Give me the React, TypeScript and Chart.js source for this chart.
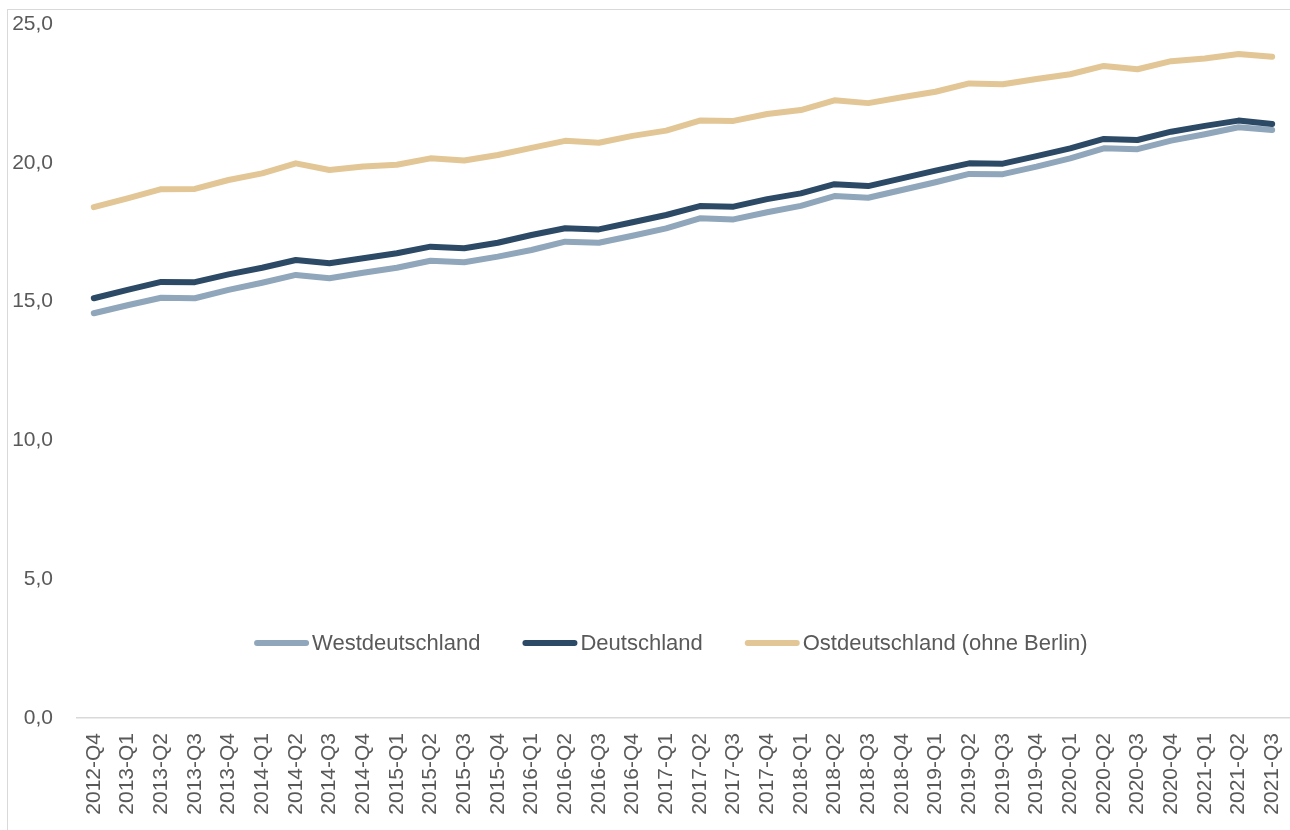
import React, { useEffect, useRef } from 'react';
import { Chart, registerables } from 'chart.js';

Chart.register(...registerables);

const categories = [
  '2012-Q4',
  '2013-Q1', '2013-Q2', '2013-Q3', '2013-Q4',
  '2014-Q1', '2014-Q2', '2014-Q3', '2014-Q4',
  '2015-Q1', '2015-Q2', '2015-Q3', '2015-Q4',
  '2016-Q1', '2016-Q2', '2016-Q3', '2016-Q4',
  '2017-Q1', '2017-Q2', '2017-Q3', '2017-Q4',
  '2018-Q1', '2018-Q2', '2018-Q3', '2018-Q4',
  '2019-Q1', '2019-Q2', '2019-Q3', '2019-Q4',
  '2020-Q1', '2020-Q2', '2020-Q3', '2020-Q4',
  '2021-Q1', '2021-Q2', '2021-Q3',
];

const westdeutschland = [
  14.58, 14.87, 15.14, 15.12, 15.42, 15.68, 15.96, 15.84, 16.04,
  16.22, 16.47, 16.42, 16.62, 16.86, 17.16, 17.12, 17.37,
  17.64, 18.0, 17.96, 18.22, 18.45, 18.8, 18.74, 19.02,
  19.3, 19.6, 19.59, 19.86, 20.16, 20.52, 20.49, 20.8,
  21.03, 21.28, 21.18,
];

const deutschland = [
  15.12, 15.42, 15.71, 15.7, 15.98, 16.22, 16.5, 16.38, 16.56,
  16.74, 16.98, 16.92, 17.12, 17.4, 17.64, 17.6, 17.86,
  18.12, 18.44, 18.42, 18.69, 18.9, 19.23, 19.16, 19.44,
  19.72, 19.98, 19.97, 20.24, 20.52, 20.86, 20.82, 21.12,
  21.33, 21.52, 21.4,
];

const ostdeutschland = [
  18.4, 18.72, 19.05, 19.06, 19.38, 19.62, 19.98, 19.74, 19.87,
  19.93, 20.16, 20.08, 20.28, 20.54, 20.79, 20.72, 20.97,
  21.16, 21.52, 21.51, 21.76, 21.9, 22.25, 22.15, 22.36,
  22.56, 22.86, 22.83, 23.02, 23.19, 23.49, 23.37, 23.66,
  23.76, 23.92, 23.82,
];

const seriesNames = ['Westdeutschland', 'Deutschland', 'Ostdeutschland (ohne Berlin)'];
const seriesColors = ['#8FA6BB', '#2C4A66', '#E2C696'];

const yTickValues = [0, 5, 10, 15, 20, 25];
const yTickLabels = ['0,0', '5,0', '10,0', '15,0', '20,0', '25,0'];

const FONT = '"Liberation Sans", Arial, sans-serif';
const TEXT_COLOR = '#595959';

const inlineLegend = {
  id: 'inlineLegend',
  afterDraw(chart: any) {
    const ctx = chart.ctx;
    const area = chart.chartArea;
    ctx.save();
    ctx.font = `22px ${FONT}`;
    const sample = 55;
    const gap = 3;
    const spacing = 42;
    const items = chart.data.datasets.map((ds: any) => ({
      label: ds.label,
      color: ds.borderColor,
      w: ctx.measureText(ds.label).width,
    }));
    const total =
      items.reduce((s: number, it: any) => s + sample + gap + it.w, 0) +
      spacing * (items.length - 1);
    const cx = area.left + area.width * 0.49;
    const y = area.top + area.height * 0.892;
    let x = cx - total / 2;
    for (const it of items) {
      ctx.strokeStyle = it.color;
      ctx.lineWidth = 6;
      ctx.lineCap = 'round';
      ctx.beginPath();
      ctx.moveTo(x + 3, y);
      ctx.lineTo(x + sample - 3, y);
      ctx.stroke();
      ctx.fillStyle = TEXT_COLOR;
      ctx.textAlign = 'left';
      ctx.textBaseline = 'middle';
      ctx.fillText(it.label, x + sample + gap, y + 1);
      x += sample + gap + it.w + spacing;
    }
    ctx.restore();
  },
};

export default function App() {
  const canvasRef = useRef<HTMLCanvasElement | null>(null);

  useEffect(() => {
    const canvas = canvasRef.current;
    if (!canvas) return;
    const seriesData = [westdeutschland, deutschland, ostdeutschland];
    const drawOrder = [1, 0, 2];
    const chart = new Chart(canvas, {
      type: 'line',
      data: {
        labels: categories,
        datasets: seriesNames.map((name, i) => ({
          label: name,
          data: seriesData[i],
          borderColor: seriesColors[i],
          backgroundColor: seriesColors[i],
          borderWidth: 6,
          borderCapStyle: 'round',
          borderJoinStyle: 'round',
          pointRadius: 0,
          pointHoverRadius: 0,
          tension: 0,
          fill: false,
          order: drawOrder[i],
        })),
      },
      options: {
        animation: false,
        responsive: false,
        devicePixelRatio: 1,
        layout: { padding: { top: 24, right: 1, left: 0, bottom: 0 } },
        plugins: {
          legend: { display: false },
          tooltip: { enabled: false },
        },
        scales: {
          x: {
            offset: true,
            grid: { display: false, drawTicks: false, offset: true },
            border: { display: true, color: '#D9D9D9', width: 1.5 },
            ticks: {
              autoSkip: false,
              minRotation: 90,
              maxRotation: 90,
              padding: 15,
              color: TEXT_COLOR,
              font: { family: FONT, size: 21 },
            },
            afterFit: (scale: any) => {
              scale.height = 112;
              scale.paddingLeft = 0;
              scale.paddingRight = 0;
            },
          },
          y: {
            min: 0,
            max: 25,
            grid: { display: false, drawTicks: false },
            border: { display: false },
            ticks: {
              stepSize: 5,
              padding: 24,
              color: TEXT_COLOR,
              font: { family: FONT, size: 21 },
              callback: (v: any) => {
                const idx = yTickValues.indexOf(Number(v));
                return idx >= 0 ? yTickLabels[idx] : '';
              },
            },
            afterFit: (scale: any) => {
              scale.width = 77;
              scale.paddingTop = 0;
              scale.paddingBottom = 0;
            },
          },
        },
      },
      plugins: [inlineLegend],
    } as any);
    return () => chart.destroy();
  }, []);

  return (
    <div
      style={{
        position: 'fixed',
        left: 0,
        top: 0,
        width: 1290,
        height: 830,
        overflow: 'hidden',
        background: '#ffffff',
      }}
    >
      <div
        style={{
          position: 'absolute',
          left: 7,
          top: 9,
          width: 1300,
          height: 840,
          border: '1px solid #D9D9D9',
          boxSizing: 'border-box',
        }}
      />
      <canvas
        ref={canvasRef}
        width={1290}
        height={830}
        style={{ position: 'absolute', left: 0, top: 0, width: 1290, height: 830 }}
      />
    </div>
  );
}
